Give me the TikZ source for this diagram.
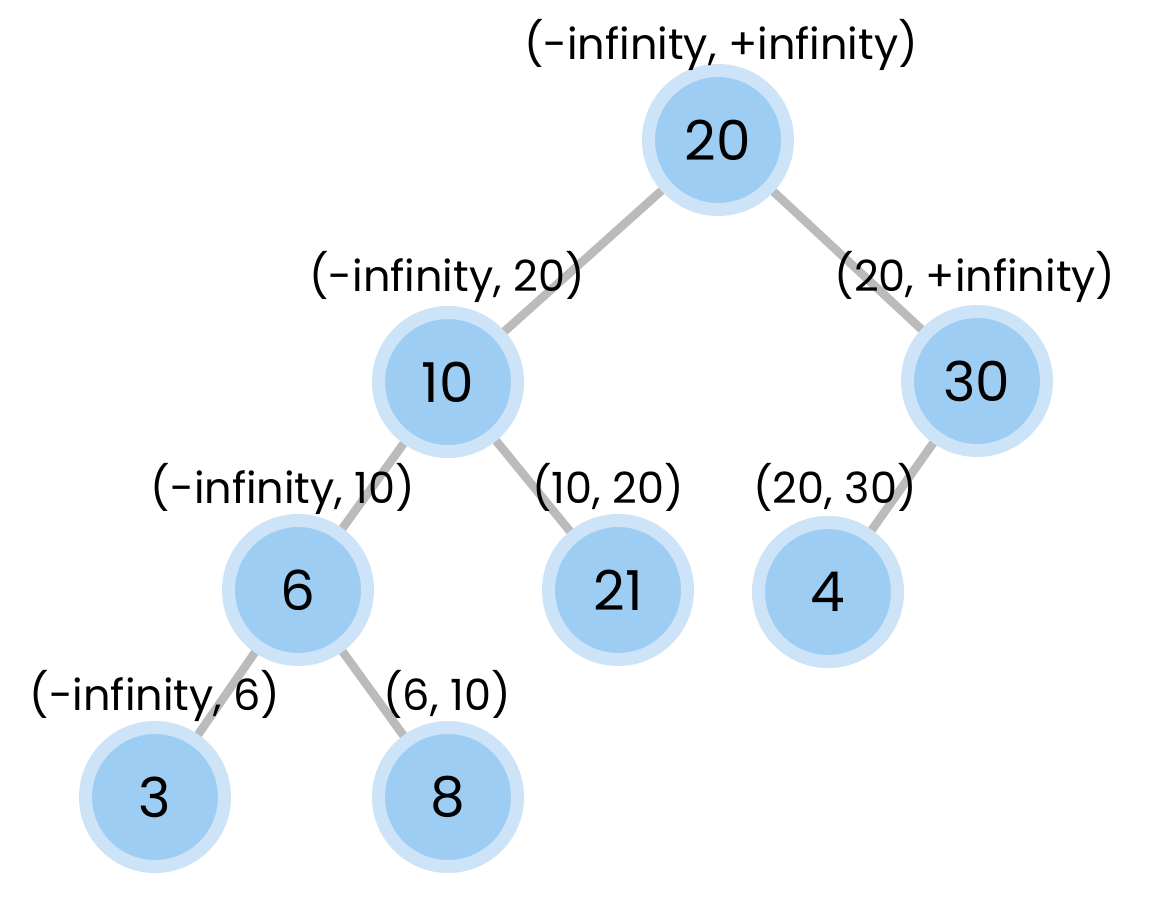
\documentclass[tikz,border=0pt]{standalone}
\usepackage{fontspec}
\setmainfont{Poppins}
\definecolor{ringc}{HTML}{CCE3F8}
\definecolor{fillc}{HTML}{9ECDF3}
\definecolor{edgec}{HTML}{BBBBBB}
\begin{document}
\begin{tikzpicture}[x=1pt,y=-1pt,
  tnode/.style={circle,fill=fillc,draw=ringc,line width=13pt,minimum size=139pt,inner sep=0pt,font=\fontsize{55}{55}\selectfont},
  lbl/.style={font=\fontsize{43}{43}\selectfont,inner sep=0pt,anchor=base},
  edge/.style={draw=edgec,line width=8.5pt}]
\useasboundingbox (0,0) rectangle (1166,900);
\fill[white] (0,0) rectangle (1166,900);
\coordinate (p20) at (718,140);
\coordinate (p10) at (448,382);
\coordinate (p30) at (977,381);
\coordinate (p6) at (298,590);
\coordinate (p21) at (618,590);
\coordinate (p4) at (828,592);
\coordinate (p3) at (155,797);
\coordinate (p8) at (448,797);
\draw[edge] (p20) -- (p10);
\draw[edge] (p20) -- (p30);
\draw[edge] (p10) -- (p6);
\draw[edge] (p10) -- (p21);
\draw[edge] (p30) -- (p4);
\draw[edge] (p6) -- (p3);
\draw[edge] (p6) -- (p8);
\node[tnode] (n20) at (p20) {20};
\node[tnode] (n10) at (p10) {10};
\node[tnode] (n30) at (p30) {30};
\node[tnode] (n6) at (p6) {6};
\node[tnode] (n21) at (p21) {21};
\node[tnode] (n4) at (p4) {4};
\node[tnode] (n3) at (p3) {3};
\node[tnode] (n8) at (p8) {8};
\node[lbl] (l20) at (721,59) {(-infinity, +infinity)};
\node[lbl] (l10) at (447,291) {(-infinity, 20)};
\node[lbl] (l30) at (975,291) {(20, +infinity)};
\node[lbl] (l6) at (283,503) {(-infinity, 10)};
\node[lbl] (l21) at (608,503) {(10, 20)};
\node[lbl] (l4) at (835,503) {(20, 30)};
\node[lbl] (l3) at (155,710) {(-infinity, 6)};
\node[lbl] (l8) at (447,710) {(6, 10)};
\end{tikzpicture}
\end{document}
